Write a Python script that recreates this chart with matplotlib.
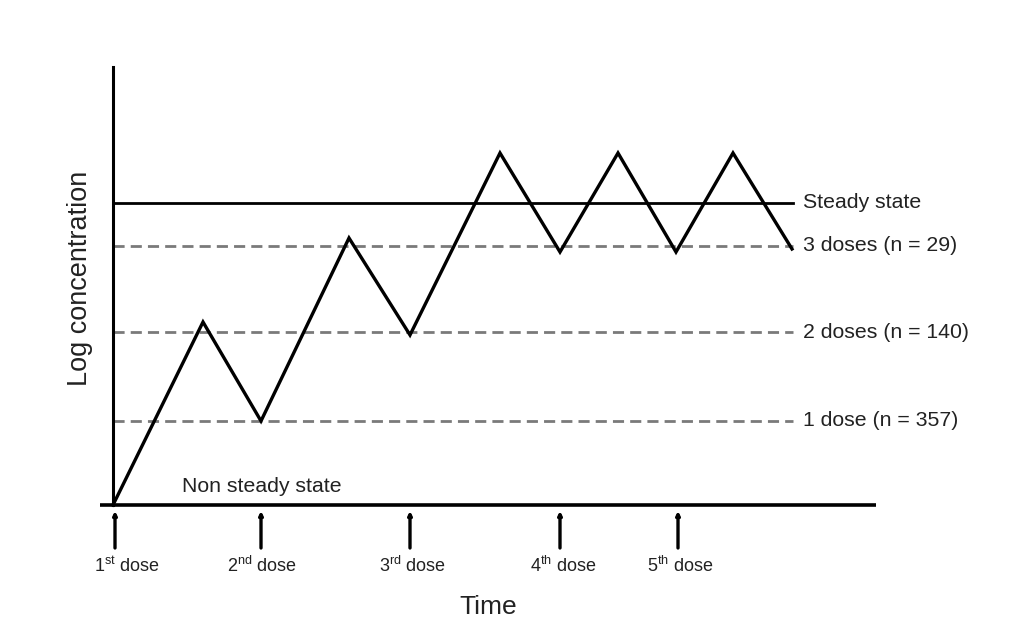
import matplotlib
matplotlib.use("Agg")
import matplotlib.pyplot as plt

plt.rcParams["font.family"] = ["Liberation Sans", "DejaVu Sans"]
plt.rcParams["mathtext.fontset"] = "custom"
plt.rcParams["mathtext.rm"] = "Liberation Sans"
plt.rcParams["mathtext.it"] = "Liberation Sans"

# concentration profile (arbitrary units), troughs at each dose
conc_time = [0, 9.0, 14.8, 23.6, 29.7, 38.7, 44.7, 50.5, 56.3, 62.0, 67.9]
conc_value = [0, 18.3, 8.4, 26.7, 17.0, 35.2, 25.3, 35.2, 25.3, 35.2, 25.6]

steady_level = 30.2
steady_label = "Steady state"
dose_levels = [25.9, 17.3, 8.4]
dose_level_labels = ["3 doses (n = 29)", "2 doses (n = 140)", "1 dose (n = 357)"]
line_end = 68.0

dose_times = [0.2, 14.8, 29.7, 44.7, 56.5]
dose_label_x = [1.4, 14.9, 30.0, 45.0, 56.7]
dose_labels = [r"1$^{\mathrm{st}}$ dose", r"2$^{\mathrm{nd}}$ dose", r"3$^{\mathrm{rd}}$ dose",
               r"4$^{\mathrm{th}}$ dose", r"5$^{\mathrm{th}}$ dose"]

W, H = 1012, 631
fig = plt.figure(figsize=(W / 100, H / 100), dpi=100)
ax = fig.add_axes([113 / W, (H - 505) / H, (876 - 113) / W, (505 - 67) / H])
ax.set_xlim(0, 76.3)
ax.set_ylim(0, 43.8)

for s in ["top", "right", "bottom"]:
    ax.spines[s].set_visible(False)
ax.spines["left"].set_linewidth(2.2)
ax.set_xticks([])
ax.set_yticks([])

# bottom axis line, slightly overhanging the y axis
ax.plot([-1.3, 76.3], [0, 0], color="black", lw=2.6, clip_on=False, solid_capstyle="butt")

ax.plot([0, line_end], [steady_level, steady_level], color="black", lw=2)
ax.text(line_end + 1.0, steady_level, steady_label, va="center", ha="left", fontsize=15.3, color="#222222")

for lvl, lab in zip(dose_levels, dose_level_labels):
    ax.plot([0, line_end], [lvl, lvl], color="#7a7a7a", lw=2, dashes=(4, 2.2))
    ax.text(line_end + 1.0, lvl, lab, va="center", ha="left", fontsize=15.3, color="#222222")

ax.plot(conc_time, conc_value, color="black", lw=2.4, solid_joinstyle="miter", clip_on=False)

ax.text(6.9, 1.9, "Non steady state", fontsize=15.3, color="#222222", va="center", ha="left")

for t, lx, lab in zip(dose_times, dose_label_x, dose_labels):
    ax.annotate("", xy=(t, -0.6), xytext=(t, -4.3), annotation_clip=False,
                arrowprops=dict(arrowstyle="-|>", color="black", lw=2.4,
                                mutation_scale=5, shrinkA=0, shrinkB=0))
    ax.text(lx, -6.1, lab, ha="center", va="center", fontsize=13, color="#222222", clip_on=False)

fig.text(80 / W, 1 - 278 / H, "Log concentration", rotation=90, ha="center", va="center",
         fontsize=19.5, color="#222222")
fig.text(488 / W, 1 - 607 / H, "Time", ha="center", va="center", fontsize=19, color="#222222")

fig.savefig("out.png", dpi=100)
